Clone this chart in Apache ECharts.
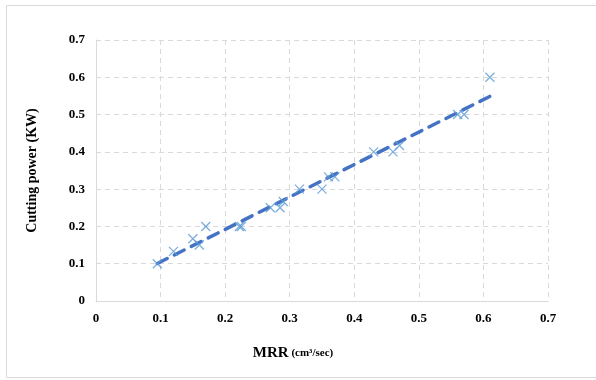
<!DOCTYPE html>
<html>
<head>
<meta charset="utf-8">
<script src="https://cdn.jsdelivr.net/npm/echarts@6/dist/echarts.min.js"></script>
<style>
  html, body { margin: 0; padding: 0; background: #fff; }
  #chart { width: 596px; height: 380px; }
</style>
</head>
<body>
<div id="chart"></div>
<script>
// MRR (cm3/sec) vs cutting power (KW)
const mrr = [0.095, 0.12, 0.15, 0.16, 0.17, 0.222, 0.225, 0.27, 0.285, 0.29,
             0.315, 0.35, 0.36, 0.37, 0.43, 0.46, 0.47, 0.56, 0.57, 0.61];
const power = [0.10, 0.133, 0.167, 0.15, 0.20, 0.20, 0.20, 0.25, 0.25, 0.267,
               0.30, 0.30, 0.333, 0.333, 0.40, 0.40, 0.417, 0.50, 0.50, 0.60];
const tickLabels = ["0", "0.1", "0.2", "0.3", "0.4", "0.5", "0.6", "0.7"];

// linear trendline (least squares), like the spreadsheet one
function trend(xs, ys) {
  const n = xs.length;
  let sx = 0, sy = 0, sxy = 0, sxx = 0;
  for (let i = 0; i < n; i++) {
    sx += xs[i]; sy += ys[i]; sxy += xs[i] * ys[i]; sxx += xs[i] * xs[i];
  }
  const b = (n * sxy - sx * sy) / (n * sxx - sx * sx);
  const a = (sy - b * sx) / n;
  const x0 = Math.min(...xs), x1 = Math.max(...xs);
  return [[x0, a + b * x0], [x1, a + b * x1]];
}

const font = "'Liberation Serif', 'Times New Roman', serif";
const gridLine = { show: true, lineStyle: { color: "#d9d9d9", type: [5, 4], width: 1 } };
const axisLbl = {
  fontFamily: font, fontWeight: "bold", fontSize: 13, color: "#000",
  formatter: v => tickLabels[Math.round(v * 10)]
};

const chart = echarts.init(document.getElementById("chart"));
chart.setOption({
  animation: false,
  backgroundColor: "#fff",
  graphic: [{
    type: "rect",
    shape: { x: 6.5, y: 5.5, width: 600, height: 372 },
    style: { fill: "none", stroke: "#d9d9d9", lineWidth: 1 },
    silent: true
  }],
  title: {
    text: "{a|MRR}{b| (cm³/sec)}",
    left: 288,
    top: 341,
    textAlign: "center",
    textStyle: {
      rich: {
        a: { fontFamily: font, fontWeight: "bold", fontSize: 15, color: "#000" },
        b: { fontFamily: font, fontWeight: "bold", fontSize: 11, color: "#000" }
      }
    }
  },
  grid: { left: 96, right: 48, top: 40, bottom: 79 },
  xAxis: {
    type: "value",
    min: 0, max: 0.7, interval: 0.1,
    axisLine: { show: true, lineStyle: { color: "#d9d9d9" } },
    axisTick: { show: false },
    splitLine: gridLine,
    axisLabel: Object.assign({ margin: 11 }, axisLbl)
  },
  yAxis: {
    type: "value",
    min: 0, max: 0.7, interval: 0.1,
    name: "Cutting power (KW)",
    nameLocation: "middle",
    nameGap: 57,
    nameTextStyle: { fontFamily: font, fontWeight: "bold", fontSize: 14, color: "#000" },
    axisLine: { show: true, lineStyle: { color: "#d9d9d9" } },
    axisTick: { show: false },
    splitLine: gridLine,
    axisLabel: Object.assign({ margin: 11 }, axisLbl)
  },
  series: [
    {
      type: "line",
      data: trend(mrr, power),
      showSymbol: false,
      lineStyle: { color: "#4472c4", width: 3.5, type: [11, 8], cap: "round" },
      z: 2
    },
    {
      type: "scatter",
      data: mrr.map((x, i) => [x, power[i]]),
      symbol: "path://M0,0L10,10M10,0L0,10",
      symbolSize: 9,
      itemStyle: { color: "none", borderColor: "#5b9bd5", borderWidth: 1.3 },
      z: 3
    }
  ]
});
</script>
</body>
</html>
